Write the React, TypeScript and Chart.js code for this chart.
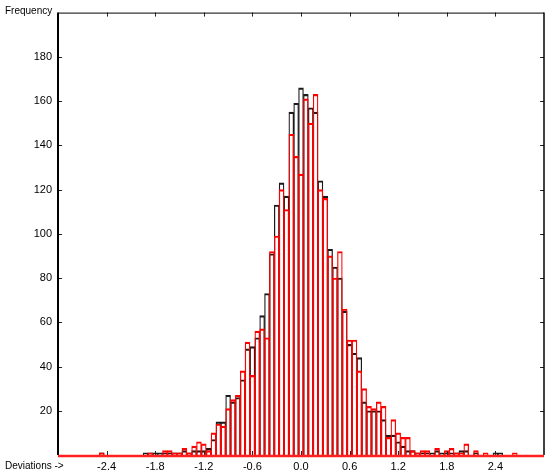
import React, { useEffect, useRef } from "react";
import { Chart, registerables } from "chart.js";

Chart.register(...registerables);

// Histogram bins: centre of first bin and bin width (deviation units)
const FIRST_BIN_CENTER = -2.94;
const BIN_WIDTH = 0.06;

// Frequencies per bin, from -2.94 to 2.94 (99 bins)
const redCounts = [
  0, 0, 0, 0, 0, 0, 0, 0,
  1,
  0, 0, 0, 0, 0, 0, 0, 0,
  0, 1, 0, 0, 2, 2, 1, 1, 3, 1, 4, 6, 5, 2, 10, 14, 13, 21, 25, 27,
  38, 51, 36, 56, 57, 53, 92, 99, 120, 111, 145, 135,
  127,
  161, 150, 163, 120, 116, 90, 80, 92, 66, 52, 52, 38, 30, 22, 21, 24, 22,
  8, 16, 10, 8, 8, 2, 1, 2, 2, 0, 3, 0, 2, 3, 1, 1, 5, 0, 2, 0, 1, 0, 0,
  0, 0, 0, 1, 0, 0, 0, 0, 0,
];

const blackCounts = [
  0, 0, 0, 0, 0, 0, 0, 0,
  1,
  0, 0, 0, 0, 0, 0, 0, 0,
  1, 1, 1, 1, 1, 1, 1, 1, 2, 1, 2, 2, 2, 3, 7, 15, 15, 27, 24, 26,
  34, 48, 49, 53, 63, 73, 91, 113, 123, 117, 155, 159,
  166,
  163, 157, 155, 124, 117, 93, 85, 80, 65, 50, 46, 44, 24, 20, 20, 20, 16,
  9, 9, 6, 4, 2, 2, 1, 1, 1, 1, 2, 1, 1, 1, 1, 2, 2, 0, 1, 0, 0, 0, 1,
  1, 0, 0, 0, 0, 0, 0, 0, 0,
];

const xTickLabels = ["-2.4", "-1.8", "-1.2", "-0.6", "0.0", "0.6", "1.2", "1.8", "2.4"];
const yTickLabels = ["20", "40", "60", "80", "100", "120", "140", "160", "180"];
const xTitle = "Deviations ->";
const yTitle = "Frequency";

const X_MIN = -3;
const X_MAX = 3;
const Y_MIN = 0;
const Y_MAX = 200;

function toPoints(counts: number[]) {
  return counts.map((c, i) => ({
    x: Number((FIRST_BIN_CENTER + i * BIN_WIDTH).toFixed(2)),
    y: c,
  }));
}

const FONT = '"Liberation Sans", Arial, sans-serif';

const framePlugin = {
  id: "frame",
  afterDatasetsDraw(chart: any) {
    const { ctx, chartArea, scales } = chart;
    const { left, top, right, bottom } = chartArea;
    const xs = scales.x;
    const ys = scales.y;
    const line = (x1: number, y1: number, x2: number, y2: number) => {
      ctx.beginPath();
      ctx.moveTo(x1, y1);
      ctx.lineTo(x2, y2);
      ctx.stroke();
    };
    ctx.save();
    // tick marks (inside)
    ctx.strokeStyle = "#222";
    ctx.lineWidth = 1;
    for (const t of yTickLabels) {
      const py = Math.round(ys.getPixelForValue(Number(t))) + 0.5;
      line(left - 1, py, left + 4, py);
      line(right - 4, py, right, py);
    }
    for (const t of xTickLabels) {
      const px = Math.round(xs.getPixelForValue(Number(t))) + 0.5;
      line(px, top, px, top + 4);
      line(px, bottom - 4, px, bottom);
    }
    // frame
    ctx.strokeStyle = "#000";
    ctx.lineWidth = 1;
    line(left, top + 0.5, right, top + 0.5);
    ctx.lineWidth = 2;
    line(left, top, left, bottom);
    ctx.lineWidth = 1.5;
    line(right, top, right, bottom);
    ctx.strokeStyle = "#ff2020";
    ctx.lineWidth = 2.5;
    line(left, bottom + 1, right, bottom + 1);
    // titles
    ctx.fillStyle = "#000";
    ctx.font = `10px ${FONT}`;
    ctx.textBaseline = "middle";
    ctx.textAlign = "left";
    ctx.fillText(yTitle, 5, 11.5);
    ctx.fillText(xTitle, 5, 466);
    ctx.restore();
  },
};

const barBorder = { top: 1.5, left: 0.6, right: 0.6, bottom: 0 };

export default function App() {
  const canvasRef = useRef<HTMLCanvasElement | null>(null);

  useEffect(() => {
    const canvas = canvasRef.current;
    if (!canvas) return;
    const chart = new Chart(canvas, {
      type: "bar",
      data: {
        datasets: [
          {
            label: "red",
            data: toPoints(redCounts) as any,
            backgroundColor: "rgba(0,0,0,0)",
            borderColor: "#ff0000",
            borderWidth: barBorder,
            grouped: false,
            order: 1,
            barPercentage: 1,
            categoryPercentage: 1,
          } as any,
          {
            label: "black",
            data: toPoints(blackCounts) as any,
            backgroundColor: "rgba(0,0,0,0)",
            borderColor: "#1a1a1a",
            borderWidth: barBorder,
            grouped: false,
            order: 2,
            barPercentage: 1,
            categoryPercentage: 1,
          } as any,
        ],
      },
      options: {
        animation: false,
        responsive: false,
        devicePixelRatio: 1,
        layout: { padding: { top: 4, right: 6, left: 0, bottom: 0 } },
        plugins: {
          legend: { display: false },
          tooltip: { enabled: false },
          title: { display: false },
        },
        scales: {
          x: {
            type: "linear",
            min: X_MIN,
            max: X_MAX,
            offset: false,
            grid: { display: false, drawTicks: false, tickLength: 0 },
            border: { display: false },
            afterBuildTicks: (scale: any) => {
              scale.ticks = xTickLabels.map((v) => ({ value: Number(v) }));
            },
            afterFit: (scale: any) => {
              scale.height = 21;
            },
            ticks: {
              autoSkip: false,
              maxRotation: 0,
              padding: 5,
              color: "#000",
              font: { family: FONT, size: 11 },
              callback: (_v: any, i: number) => xTickLabels[i],
            },
          },
          y: {
            type: "linear",
            min: Y_MIN,
            max: Y_MAX,
            grid: { display: false, drawTicks: false, tickLength: 0 },
            border: { display: false },
            afterBuildTicks: (scale: any) => {
              scale.ticks = yTickLabels.map((v) => ({ value: Number(v) }));
            },
            afterFit: (scale: any) => {
              scale.width = 58;
            },
            ticks: {
              autoSkip: false,
              padding: 6,
              color: "#000",
              font: { family: FONT, size: 11 },
              callback: (_v: any, i: number) => yTickLabels[i],
            },
          },
        },
      },
      plugins: [framePlugin],
    });
    return () => chart.destroy();
  }, []);

  return (
    <div style={{ position: "absolute", left: 0, top: 0, width: 550, height: 476, background: "#fff" }}>
      <canvas ref={canvasRef} width={550} height={476} style={{ display: "block" }} />
    </div>
  );
}
